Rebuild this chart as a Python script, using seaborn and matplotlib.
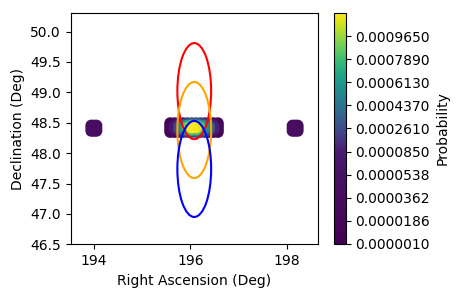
import numpy as np
import pandas as pd
import matplotlib
matplotlib.use("Agg")
import matplotlib.pyplot as plt
import seaborn as sns
from matplotlib.patches import Ellipse
from matplotlib.colors import Normalize
from matplotlib.cm import ScalarMappable

# central probability band: grid of sky positions and probabilities (rows = dec)
band_ra = [195.58, 195.67, 195.76, 195.85, 195.94, 196.03, 196.12, 196.21, 196.30, 196.39, 196.48, 196.57]
band_dec = [48.494, 48.457, 48.420, 48.383, 48.346]
band_prob = [
    [1.0e-5, 1.6e-5, 4.0e-5, 1.0e-4, 2.0e-4, 2.8e-4, 2.7e-4, 2.0e-4, 1.2e-4, 6.0e-5, 2.0e-5, 1.0e-5],
    [1.3e-5, 4.5e-5, 1.6e-4, 3.8e-4, 6.4e-4, 8.2e-4, 8.0e-4, 5.8e-4, 3.8e-4, 2.1e-4, 7.0e-5, 1.8e-5],
    [2.0e-5, 7.0e-5, 2.4e-4, 5.5e-4, 9.0e-4, 1.13e-3, 1.10e-3, 8.2e-4, 5.5e-4, 3.2e-4, 1.1e-4, 3.0e-5],
    [1.3e-5, 4.0e-5, 1.5e-4, 3.6e-4, 6.2e-4, 8.0e-4, 7.8e-4, 5.6e-4, 3.6e-4, 2.0e-4, 6.5e-5, 1.8e-5],
    [1.0e-5, 1.5e-5, 3.8e-5, 9.5e-5, 1.9e-4, 2.6e-4, 2.5e-4, 1.9e-4, 1.1e-4, 5.5e-5, 1.9e-5, 1.0e-5],
]

# two faint side patches
side_ra = [193.945, 194.000, 194.055, 198.115, 198.170, 198.225]
side_dec = [48.365, 48.410, 48.455]
side_prob = 4.0e-5

# localisation ellipses
ell_ra = [196.08, 196.08, 196.08]
ell_dec = [49.02, 48.38, 47.74]
ell_width = 0.70
ell_height = 1.58
ell_colors = ["red", "orange", "blue"]

cbar_ticks = [0.0000010, 0.0000186, 0.0000362, 0.0000538, 0.0000850,
              0.0002610, 0.0004370, 0.0006130, 0.0007890, 0.0009650]
cbar_top = 0.001141

# build the point table
bra, bdec = np.meshgrid(band_ra, band_dec)
sra, sdec = np.meshgrid(side_ra, side_dec)
df = pd.DataFrame({
    "ra": np.concatenate([bra.ravel(), sra.ravel()]),
    "dec": np.concatenate([bdec.ravel(), sdec.ravel()]),
    "prob": np.concatenate([np.array(band_prob).ravel(), np.full(sra.size, side_prob)]),
})
df = df.sort_values("prob")

norm = Normalize(vmin=cbar_ticks[0], vmax=cbar_top)

fig = plt.figure(figsize=(4.59, 2.97), dpi=100)
ax = fig.add_axes([70.7 / 459, 1 - 244.3 / 297, 247.6 / 459, 231.0 / 297])
cax = fig.add_axes([334.3 / 459, 1 - 243.7 / 297, 11.4 / 459, 230.4 / 297])

sns.scatterplot(data=df, x="ra", y="dec", hue="prob", palette="viridis",
                hue_norm=norm, s=70, linewidth=0, marker="o", legend=False, ax=ax)

for r, d, c in zip(ell_ra, ell_dec, ell_colors):
    ax.add_patch(Ellipse((r, d), ell_width, ell_height, fill=False,
                         edgecolor=c, lw=1.5, zorder=3))

ax.set_xlim(193.52, 198.65)
ax.set_ylim(46.5, 50.3)
ax.set_xticks([194, 196, 198])
ax.set_yticks([46.5, 47.0, 47.5, 48.0, 48.5, 49.0, 49.5, 50.0])
ax.set_xlabel("Right Ascension (Deg)")
ax.set_ylabel("Declination (Deg)")

# colorbar with evenly spaced, non-uniform levels
edges = cbar_ticks + [cbar_top]
bounds = np.concatenate([np.linspace(a, b, 30, endpoint=False) for a, b in zip(edges[:-1], edges[1:])] + [[cbar_top]])
sm = ScalarMappable(norm=norm, cmap="viridis")
cb = fig.colorbar(sm, cax=cax, boundaries=bounds, spacing="uniform", ticks=cbar_ticks, format="%.7f")
cb.set_label("Probability")
cb.outline.set_linewidth(0.8)

fig.savefig("out.png", dpi=100)
